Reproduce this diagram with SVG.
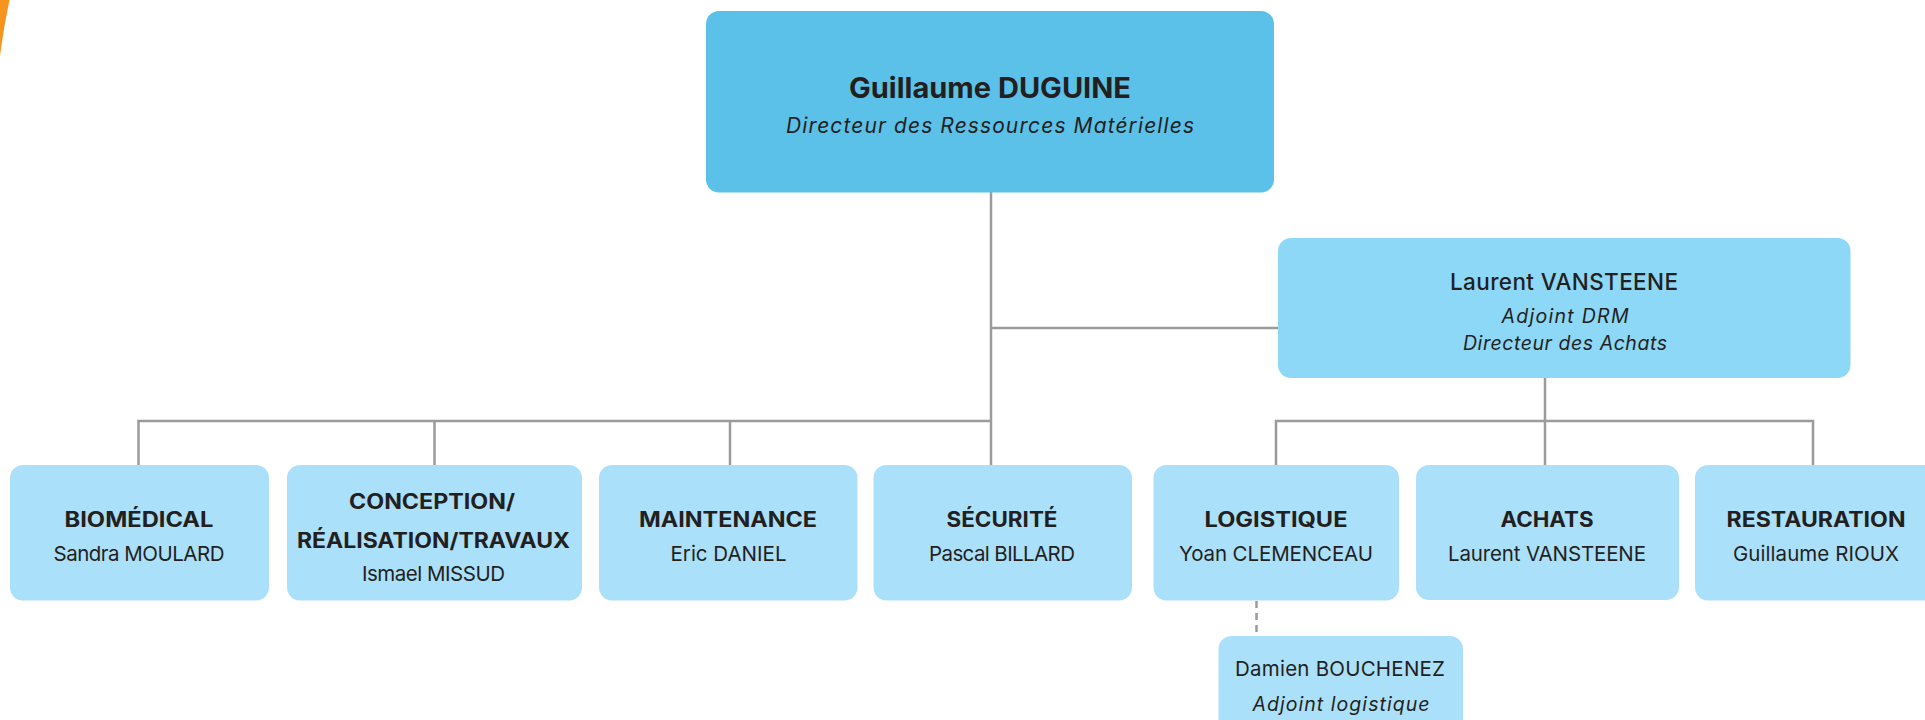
<svg xmlns="http://www.w3.org/2000/svg" width="1925" height="720" viewBox="0 0 1925 720">
<style>
  .t { font-family: Inter, Lato, "Liberation Sans", sans-serif; fill: #231F20; text-anchor: middle; }
  .b { font-weight: bold; font-size: 21px; }
  .n { font-size: 20.5px; }
  .i { font-style: italic; font-size: 19.5px; }
  .box0 { fill: #5BC1E8; }
  .box1 { fill: #8DD8F6; }
  .box2 { fill: #ABE0FA; }
  .ln { stroke: #9B9B9B; stroke-width: 2.5; fill: none; }
  .dash { stroke: #9B9B9B; stroke-width: 2.5; fill: none; stroke-dasharray: 7 5; }
</style>
<rect width="1925" height="720" fill="#FFFFFF"/>
<path d="M0,0 L9.5,0 Q4,26 0,56 Z" fill="#F7941D"/>

<g id="connectors">
  <path class="ln" d="M991,192 V465"/>
  <path class="ln" d="M991,328 H1278"/>
  <path class="ln" d="M138.5,465 V421 H991"/>
  <path class="ln" d="M434.5,421 V465"/>
  <path class="ln" d="M730,421 V465"/>
  <path class="ln" d="M1545,378 V465"/>
  <path class="ln" d="M1276,465 V421 H1813 V465"/>
  <path class="dash" d="M1256.5,601 V636"/>
</g>

<g id="node-duguine">
  <rect class="box0" x="706" y="11" width="568" height="181.5" rx="13"/>
  <text class="t" x="990" y="98" style="font-weight:bold;font-size:28px" textLength="282" lengthAdjust="spacingAndGlyphs">Guillaume DUGUINE</text>
  <text class="t" x="990" y="133" style="font-style:italic;font-size:21px" textLength="408">Directeur des Ressources Matérielles</text>
</g>

<g id="node-vansteene">
  <rect class="box1" x="1278" y="238" width="572.5" height="140" rx="13"/>
  <text class="t" x="1564" y="290" style="font-size:22.5px;font-weight:500" textLength="228">Laurent VANSTEENE</text>
  <text class="t i" x="1565" y="323" textLength="127">Adjoint DRM</text>
  <text class="t i" x="1565" y="350" textLength="204">Directeur des Achats</text>
</g>

<g id="node-biomedical">
  <rect class="box2" x="10" y="465" width="259" height="135.5" rx="13"/>
  <text class="t b" x="139" y="527" textLength="149" lengthAdjust="spacingAndGlyphs">BIOMÉDICAL</text>
  <text class="t n" x="139" y="560.5" textLength="171">Sandra MOULARD</text>
</g>

<g id="node-conception">
  <rect class="box2" x="287" y="465" width="295" height="135.5" rx="13"/>
  <text class="t b" x="432" y="509" textLength="166" lengthAdjust="spacingAndGlyphs">CONCEPTION/</text>
  <text class="t b" x="433.5" y="548" textLength="273" lengthAdjust="spacingAndGlyphs">RÉALISATION/TRAVAUX</text>
  <text class="t n" x="433.5" y="581" textLength="143">Ismael MISSUD</text>
</g>

<g id="node-maintenance">
  <rect class="box2" x="599" y="465" width="258.5" height="135.5" rx="13"/>
  <text class="t b" x="728" y="527" textLength="178" lengthAdjust="spacingAndGlyphs">MAINTENANCE</text>
  <text class="t n" x="728.5" y="560.5" textLength="116">Eric DANIEL</text>
</g>

<g id="node-securite">
  <rect class="box2" x="873.5" y="465" width="258.5" height="135.5" rx="13"/>
  <text class="t b" x="1002" y="527" textLength="111" lengthAdjust="spacingAndGlyphs">SÉCURITÉ</text>
  <text class="t n" x="1002" y="560.5" textLength="146">Pascal BILLARD</text>
</g>

<g id="node-logistique">
  <rect class="box2" x="1153.5" y="465" width="245.5" height="135.5" rx="13"/>
  <text class="t b" x="1276" y="527" textLength="143" lengthAdjust="spacingAndGlyphs">LOGISTIQUE</text>
  <text class="t n" x="1276" y="560.5" textLength="194">Yoan CLEMENCEAU</text>
</g>

<g id="node-achats">
  <rect class="box2" x="1416" y="465" width="263" height="135" rx="13"/>
  <text class="t b" x="1547" y="527" textLength="93" lengthAdjust="spacingAndGlyphs">ACHATS</text>
  <text class="t n" x="1547" y="560.5" textLength="198">Laurent VANSTEENE</text>
</g>

<g id="node-restauration">
  <rect class="box2" x="1695" y="465" width="260" height="135.5" rx="13"/>
  <text class="t b" x="1816" y="527" textLength="179" lengthAdjust="spacingAndGlyphs">RESTAURATION</text>
  <text class="t n" x="1816" y="560.5" textLength="166">Guillaume RIOUX</text>
</g>

<g id="node-bouchenez">
  <rect class="box2" x="1218.5" y="636" width="244.5" height="100" rx="13"/>
  <text class="t n" x="1340" y="676" textLength="210">Damien BOUCHENEZ</text>
  <text class="t i" x="1341" y="711" textLength="177">Adjoint logistique</text>
</g>
</svg>
